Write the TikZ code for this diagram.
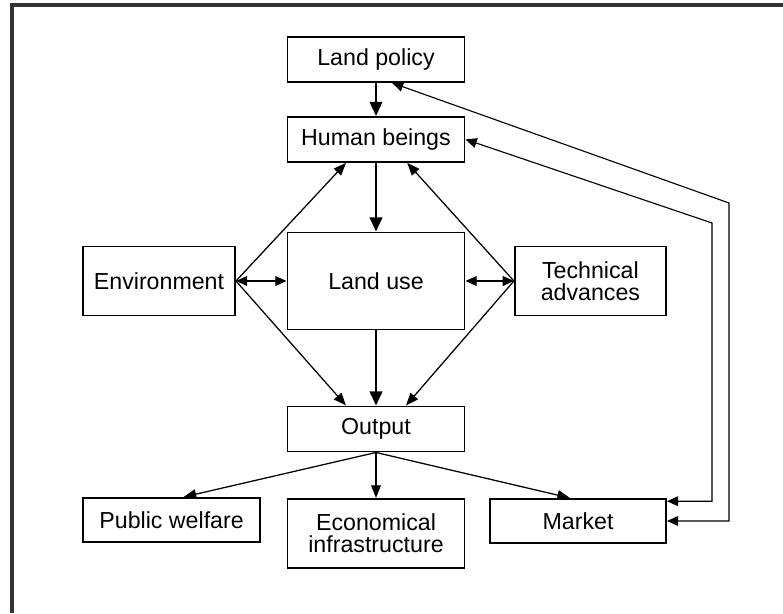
\documentclass[tikz,border=0pt]{standalone}
\usepackage{fontspec}
\setmainfont{Liberation Sans}
\usetikzlibrary{arrows.meta, calc}

\begin{document}
\begin{tikzpicture}[
    block/.style={draw, line width=1.4pt, inner sep=2pt, align=center,
                  font=\fontsize{16.5pt}{15.6pt}\selectfont},
    flow/.style={-{Triangle[length=10pt, width=9pt]}, line width=1.4pt},
    thinflow/.style={-{Triangle[length=9pt, width=7pt]}, line width=0.9pt},
    both/.style={{Triangle[length=8pt, width=7pt]}-{Triangle[length=8pt, width=7pt]}, line width=0.9pt},
]
    \useasboundingbox (0,0) rectangle (19.575,15.325);
    % Frame
    \draw[line width=2.8pt, black!80] (0.3,0) -- (0.3,15.2) -- (19.7,15.2);

    % Centre column
    \node[block, minimum width=4.425cm, minimum height=1.125cm] (lp) at (9.4,13.84) {Land policy};
    \node[block, minimum width=4.425cm, minimum height=1.125cm] (hb) at (9.4,11.84) {Human beings};
    \node[block, minimum width=4.425cm, minimum height=2.425cm] (lu) at (9.4,8.3) {Land use};
    \node[block, minimum width=4.425cm, minimum height=1.125cm] (out) at (9.4,4.6) {Output};

    % Sides
    \node[block, minimum width=3.8cm, minimum height=1.725cm] (env) at (3.975,8.3) {Environment};
    \node[block, minimum width=3.775cm, minimum height=1.725cm] (tech) at (14.76,8.3) {Technical\\advances};

    % Bottom row
    \node[block, minimum width=4.425cm, minimum height=1.1cm] (pw) at (4.29,2.325) {Public welfare};
    \node[block, minimum width=4.425cm, minimum height=1.725cm] (eco) at (9.4,1.99) {Economical\\infrastructure};
    \node[block, minimum width=4.4cm, minimum height=1.1cm] (mkt) at (14.45,2.3) {Market};

    % Main flow
    \draw[flow] (lp) -- (hb);
    \draw[flow] (hb) -- (lu);
    \draw[flow] (lu) -- (out);
    \draw[both] (env) -- (lu);
    \draw[both] (lu) -- (tech);
    \draw[thinflow] (env.east) -- ($(hb.south)+(-0.75,0)$);
    \draw[thinflow] (env.east) -- ($(out.north)+(-0.75,0)$);
    \draw[thinflow] (tech.west) -- ($(hb.south)+(0.78,0)$);
    \draw[thinflow] (tech.west) -- ($(out.north)+(0.75,0)$);

    % Output
    \draw[thinflow] (out.south) -- ($(pw.north)+(0.3,0)$);
    \draw[thinflow] (out) -- (eco);
    \draw[thinflow] (out.south) -- ($(mkt.north)+(-0.2,0)$);

    % Feedback
    \coordinate (c1) at (18.225,10.25);
    \coordinate (c2) at (17.8,9.75);
    \draw[both, line width=0.8pt] ($(lp.south)+(0.4,0)$) -- (c1) |- (mkt.east);
    \draw[both, line width=0.8pt] (hb.east) -- (c2) |- ($(mkt.north east)+(0,-0.08)$);
\end{tikzpicture}
\end{document}
